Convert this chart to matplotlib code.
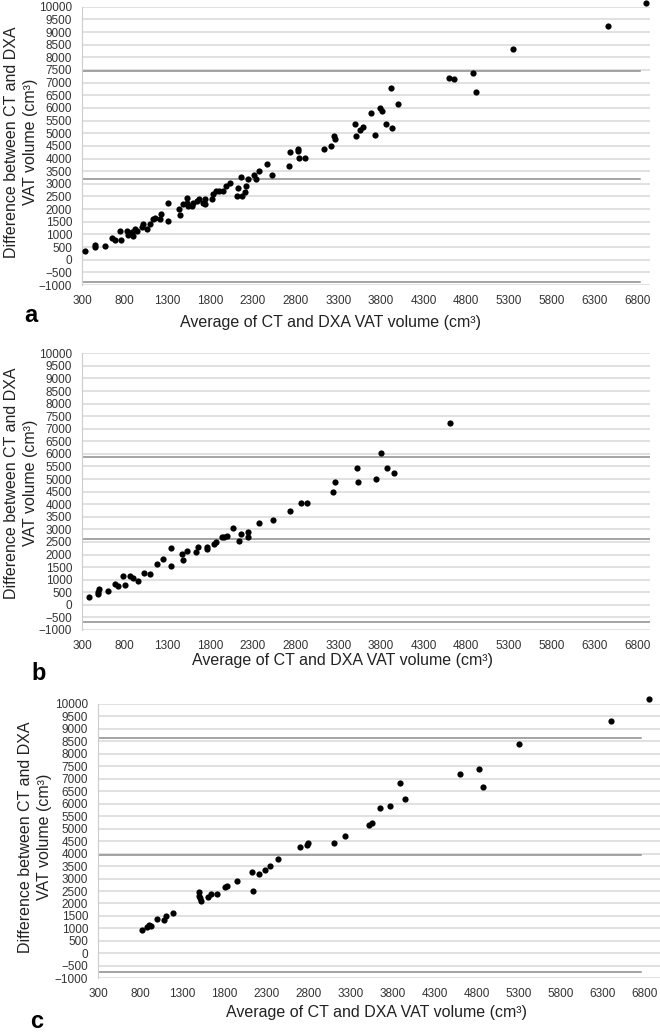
import numpy as np
import matplotlib.pyplot as plt

plt.rcParams['font.family'] = ['Liberation Sans', 'DejaVu Sans']

# panel a: all subjects
a_avg = [335, 452, 452, 570, 648, 687, 745, 757, 823, 843, 882, 902, 921, 941, 999,
         1019, 1058, 1097, 1136, 1155, 1214, 1222, 1312, 1312, 1437, 1448, 1487, 1527,
         1527, 1546, 1585, 1605, 1644, 1671, 1722, 1741, 1741, 1820, 1839, 1870, 1909,
         1948, 1988, 2034, 2113, 2132, 2159, 2171, 2210, 2222, 2238, 2308, 2339, 2378,
         2464, 2523, 2718, 2738, 2827, 2827, 2835, 2913, 3128, 3210, 3245, 3265, 3499,
         3511, 3558, 3589, 3687, 3734, 3784, 3812, 3859, 3921, 3929, 3995, 4593, 4652,
         4878, 4917, 5347, 6460, 6909]
a_diff = [328, 486, 590, 551, 840, 774, 1142, 787, 1115, 971, 1076, 945, 1207, 1115, 1273,
          1404, 1207, 1404, 1601, 1667, 1627, 1824, 2257, 1535, 1995, 1758, 2192, 2454,
          2257, 2126, 2126, 2231, 2323, 2388, 2257, 2415, 2192, 2388, 2585, 2717, 2717,
          2717, 2913, 3045, 2520, 2848, 3281, 2520, 2677, 2913, 3176, 3333, 3202, 3504,
          3766, 3333, 3701, 4252, 4383, 4291, 4029, 4029, 4383, 4488, 4882, 4751, 5381,
          4882, 5144, 5236, 5801, 4948, 5997, 5892, 5381, 6785, 5210, 6168, 7192, 7152,
          7375, 6640, 8346, 9252, 10131]
a_limits = [7440, 3200, -880]

# panel b
b_avg = [378, 487, 487, 495, 604, 689, 720, 775, 798, 864, 896, 954, 1028, 1098, 1180,
         1254, 1343, 1343, 1468, 1479, 1526, 1631, 1662, 1767, 1767, 1849, 1869, 1935,
         1966, 1993, 2071, 2137, 2157, 2246, 2246, 2375, 2538, 2741, 2861, 2935, 3239,
         3266, 3519, 3535, 3745, 3804, 3870, 3952, 4609]
b_diff = [331, 530, 437, 623, 570, 821, 755, 1152, 781, 1152, 1086, 954, 1258, 1232, 1642,
          1828, 2252, 1536, 2013, 1788, 2159, 2119, 2318, 2212, 2318, 2411, 2490, 2715,
          2715, 2755, 3046, 2530, 2821, 2914, 2715, 3245, 3377, 3735, 4066, 4066, 4490,
          4901, 5430, 4901, 4993, 6053, 5430, 5232, 7245]
b_limits = [5880, 2600, -670]

# panel c
c_avg = [818, 877, 909, 928, 999, 1086, 1113, 1196, 1502, 1502, 1518, 1529, 1608, 1647,
         1714, 1812, 1832, 1957, 2130, 2146, 2213, 2283, 2346, 2441, 2704, 2786, 2794,
         3100, 3237, 3521, 3552, 3650, 3776, 3886, 3953, 4605, 4829, 4872, 5300, 6400, 6851]
c_diff = [936, 1070, 1136, 1096, 1377, 1337, 1511, 1604, 2447, 2299, 2206, 2086, 2246, 2380,
          2380, 2674, 2714, 2888, 3249, 2513, 3182, 3342, 3516, 3783, 4278, 4345, 4412,
          4412, 4719, 5147, 5214, 5815, 5909, 6818, 6190, 7193, 7393, 6658, 8382, 9305, 10187]
c_limits = [8650, 3944, -735]

x_ticks = list(range(300, 7300, 500))
y_ticks = list(range(-1000, 10500, 500))

W, H = 660, 1033
fig = plt.figure(figsize=(W / 100, H / 100), dpi=100)

ylab = 'Difference between CT and DXA\nVAT volume (cm³)'
xlab = 'Average of CT and DXA VAT volume (cm³)'

panels = [
    # data, limits, (left, right, top, bottom px), xmax, line end, ylabel pos, xlabel pos, letter
    (a_avg, a_diff, a_limits, (82, 650, 6.7, 285), 6950, 6830, (21, 142), (330, 322), ('a', 31, 315)),
    (b_avg, b_diff, b_limits, (82, 650, 353.3, 630), 6950, 6950, (21, 483), (342, 660), ('b', 39, 673)),
    (c_avg, c_diff, c_limits, (98, 660, 704, 978.3), 6980, 6760, (35, 837), (376, 1012), ('c', 37, 1021)),
]

for xs, ys, lims, box, xmax, lend, ylp, xlp, let in panels:
    l, r, t, b = box
    ax = fig.add_axes([l / W, 1 - b / H, (r - l) / W, (b - t) / H])
    ax.set_xlim(300, xmax)
    ax.set_ylim(-1000, 10000)
    ax.set_xticks(x_ticks)
    ax.set_yticks(y_ticks)
    ax.tick_params(length=0, labelsize=8.5, colors='#333333')
    ax.tick_params(axis='y', pad=7)
    ax.tick_params(axis='x', pad=7)
    ax.grid(axis='y', color='#dcdcdc', lw=1.2)
    ax.set_axisbelow(True)
    for s in ['top', 'right', 'bottom']:
        ax.spines[s].set_visible(False)
    ax.spines['left'].set_color('#cccccc')
    for v in lims:
        ax.plot([300, lend], [v, v], color='#8c8c8c', lw=1.1, zorder=2)
    ax.scatter(xs, ys, s=20, color='black', zorder=3, clip_on=False, linewidths=0)
    fig.text(ylp[0] / W, 1 - ylp[1] / H, ylab, rotation=90, ha='center', va='center',
             multialignment='center', fontsize=11.5, linespacing=1.4, color='#222222')
    fig.text(xlp[0] / W, 1 - xlp[1] / H, xlab, ha='center', va='center', fontsize=11.5,
             color='#222222')
    fig.text(let[1] / W, 1 - let[2] / H, let[0], ha='center', va='center', fontsize=17,
             fontweight='bold')

fig.savefig('out.png', dpi=100)
